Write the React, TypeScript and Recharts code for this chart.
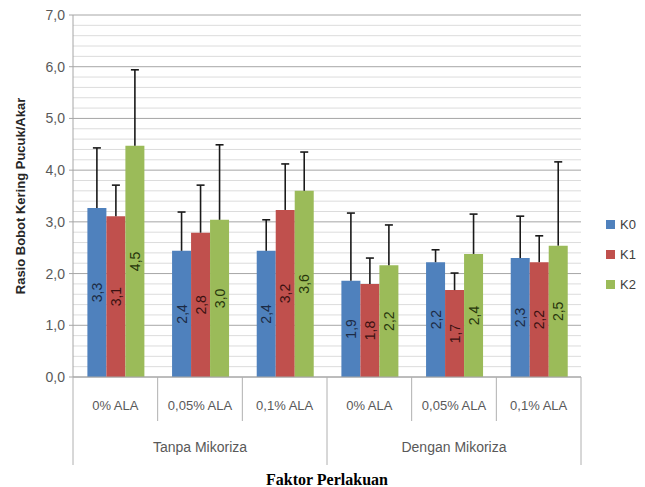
import React from 'react'
import { Bar, BarChart, CartesianGrid, ErrorBar, LabelList, XAxis, YAxis } from 'recharts'

const categories = ['0% ALA', '0,05% ALA', '0,1% ALA', '0% ALA', '0,05% ALA', '0,1% ALA']
const groups = ['Tanpa Mikoriza', 'Tanpa Mikoriza', 'Tanpa Mikoriza', 'Dengan Mikoriza', 'Dengan Mikoriza', 'Dengan Mikoriza']

const k0 = [3.27, 2.44, 2.44, 1.86, 2.22, 2.3]
const k1 = [3.11, 2.79, 3.23, 1.8, 1.68, 2.22]
const k2 = [4.47, 3.04, 3.6, 2.16, 2.38, 2.54]

// upper error only (plus direction)
const k0Err = [1.16, 0.75, 0.6, 1.31, 0.24, 0.81]
const k1Err = [0.6, 0.92, 0.89, 0.5, 0.33, 0.51]
const k2Err = [1.47, 1.45, 0.75, 0.78, 0.77, 1.62]

const yTicks = [0, 1, 2, 3, 4, 5, 6, 7]
const minorTicks = [0.2, 0.4, 0.6, 0.8, 1.2, 1.4, 1.6, 1.8, 2.2, 2.4, 2.6, 2.8, 3.2, 3.4, 3.6, 3.8, 4.2, 4.4, 4.6, 4.8, 5.2, 5.4, 5.6, 5.8, 6.2, 6.4, 6.6, 6.8]

const series = [
  { key: 'k0', name: 'K0', fill: '#4F81BD', text: '#1c2b45' },
  { key: 'k1', name: 'K1', fill: '#C0504D', text: '#3a1111' },
  { key: 'k2', name: 'K2', fill: '#9BBB59', text: '#27360c' },
]

const data = categories.map((c, i) => ({
  cat: c,
  group: groups[i],
  k0: k0[i],
  k1: k1[i],
  k2: k2[i],
  k0Err: [0, k0Err[i]],
  k1Err: [0, k1Err[i]],
  k2Err: [0, k2Err[i]],
}))

const W = 645
const H = 487
const LEFT = 73
const RIGHT = 64
const TOP = 15
const XH = 110
const BAND = (W - LEFT - RIGHT) / categories.length
const SANS = '"Liberation Sans", Arial, sans-serif'
const fmt = (v: number) => v.toFixed(1).replace('.', ',')

// minor grid lines through the y axis scale
const minorGen = (args: any) => {
  const s = args?.yAxis?.scale
  if (s) {
    const f = typeof s === 'function' ? s : s.map
    return minorTicks.map((v) => f.call(s, v))
  }
  const top = args?.offset?.top ?? TOP
  const h = args?.offset?.height ?? H - TOP - XH
  return minorTicks.map((v) => top + h * (1 - v / 7))
}

function CategoryTick(props: any) {
  const { x, y, payload } = props
  const i = payload.index ?? props.index
  const left = x - BAND / 2
  const groupStart = i % 3 === 0
  return (
    <g>
      <line x1={left} y1={y} x2={left} y2={y + (groupStart ? 88 : 44)} stroke="#b0b0b0" />
      {i === categories.length - 1 && (
        <line x1={x + BAND / 2} y1={y} x2={x + BAND / 2} y2={y + 88} stroke="#b0b0b0" />
      )}
      <text x={x} y={y + 28} textAnchor="middle" dominantBaseline="central" fontSize={13} fill="#595959" fontFamily={SANS}>
        {payload.value}
      </text>
      {i % 3 === 1 && (
        <text x={x} y={y + 70} textAnchor="middle" dominantBaseline="central" fontSize={14} fill="#595959" fontFamily={SANS}>
          {groups[i]}
        </text>
      )}
    </g>
  )
}

export default function App() {
  return (
    <div style={{ position: 'absolute', left: 0, top: 0, width: W, height: H, background: '#fff' }}>
      <style>{'.recharts-errorBar line:nth-of-type(3){display:none}'}</style>
      <BarChart width={W} height={H} data={data} margin={{ top: TOP, right: RIGHT, bottom: 0, left: 0 }} barCategoryGap="17%" barGap={0}>
        <CartesianGrid vertical={false} horizontalCoordinatesGenerator={minorGen} stroke="#dcdcdc" />
        <CartesianGrid vertical={false} stroke="#a6a6a6" />
        <XAxis
          dataKey="cat"
          height={XH}
          interval={0}
          tickSize={0}
          tickMargin={0}
          tickLine={false}
          axisLine={{ stroke: '#a6a6a6' }}
          tick={<CategoryTick />}
          label={{
            value: 'Faktor Perlakuan',
            position: 'insideBottom',
            offset: 2,
            style: { fontFamily: '"Liberation Serif", "Times New Roman", serif', fontWeight: 'bold', fontSize: 16, fill: '#000' },
          }}
        />
        <YAxis
          width={LEFT}
          domain={[0, 7]}
          ticks={yTicks}
          tickFormatter={fmt}
          tickSize={4}
          tickMargin={4}
          axisLine={{ stroke: '#a6a6a6' }}
          tickLine={{ stroke: '#a6a6a6' }}
          tick={{ fontSize: 14, fill: '#595959', fontFamily: SANS }}
          label={{
            value: 'Rasio Bobot Kering Pucuk/Akar',
            angle: -90,
            position: 'center',
            dx: -16,
            style: { fontFamily: SANS, fontWeight: 'bold', fontSize: 13, fill: '#262626' },
          }}
        />
        {series.map((s) => (
          <Bar key={s.key} dataKey={s.key} name={s.name} fill={s.fill} isAnimationActive={false}>
            <ErrorBar dataKey={`${s.key}Err`} direction="y" width={4} strokeWidth={1.6} stroke="#1a1a1a" />
            <LabelList
              dataKey={s.key}
              position="center"
              angle={-90}
              formatter={(v: any) => fmt(Number(v))}
              style={{ fontFamily: SANS, fontSize: 14, fill: s.text }}
            />
          </Bar>
        ))}
      </BarChart>
      <div style={{ position: 'absolute', left: 606, top: 209, fontFamily: SANS, fontSize: 13, color: '#404040' }}>
        {series.map((s) => (
          <div key={s.key} style={{ display: 'flex', alignItems: 'center', height: 30 }}>
            <span style={{ width: 9, height: 9, background: s.fill, marginRight: 5, display: 'inline-block' }} />
            {s.name}
          </div>
        ))}
      </div>
    </div>
  )
}
